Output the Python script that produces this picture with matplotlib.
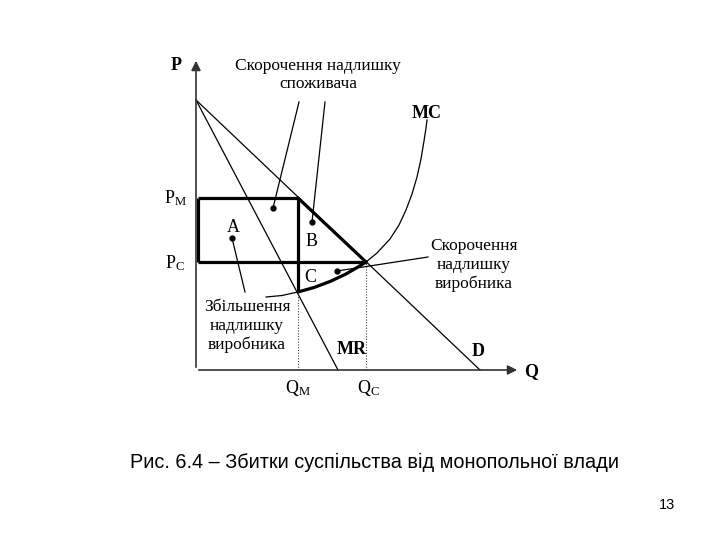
import numpy as np
import matplotlib.pyplot as plt

plt.rcParams['mathtext.fontset'] = 'custom'
plt.rcParams['mathtext.rm'] = 'Liberation Serif'

SERIF = ['Liberation Serif', 'DejaVu Serif']
SANS = ['Liberation Sans', 'DejaVu Sans']

# demand and marginal revenue: price intercept and quantity intercepts
p_max = 270
q_demand = 284
q_mr = 142

# equilibrium points
q_m, p_m = 102, 172
q_c, p_c = 170, 108

# marginal cost curve
mc_q = [70, 86, 102, 118, 134, 150, 162, 170, 181, 194, 203, 210, 216, 221, 225, 228, 230, 231]
mc_p = [73, 74.5, 78, 82.5, 88.5, 96, 103, 108, 117, 131, 145, 160, 176, 193, 211, 229, 242, 250]

# marker dots and leader ends
dots = [(77, 162), (116, 148), (36, 132), (141, 99)]
leaders = [((103, 268), (77, 162)), ((129, 268), (116, 148)),
           ((36, 132), (49, 78)), ((141, 99), (232, 113))]

fig = plt.figure(figsize=(7.2, 5.4), dpi=100)
ax = fig.add_axes([0, 0, 1, 1])
ax.set_xlim(-196, 524)
ax.set_ylim(-170, 370)
ax.axis('off')

# axes with arrows
ax.annotate('', xy=(0, 312), xytext=(0, 0),
            arrowprops=dict(arrowstyle='-|>', color='#333', lw=1.2, mutation_scale=14))
ax.annotate('', xy=(324, 0), xytext=(0, 0),
            arrowprops=dict(arrowstyle='-|>', color='#333', lw=1.2, mutation_scale=14))

# demand and MR
ax.plot([0, q_demand], [p_max, 0], color='black', lw=0.9)
ax.plot([0, q_mr], [p_max, 0], color='black', lw=0.9)

# MC
mc_q_arr = np.array(mc_q)
mc_p_arr = np.array(mc_p)
ax.plot(mc_q_arr, mc_p_arr, color='black', lw=0.9)
seg = (mc_q_arr >= q_m) & (mc_q_arr <= q_c)
ax.plot(mc_q_arr[seg], mc_p_arr[seg], color='black', lw=2.3, solid_capstyle='round')

# thick outlines
mc_at_qm = mc_p[mc_q.index(q_m)]
thick = dict(color='black', lw=2.3, solid_capstyle='butt')
ax.plot([1.5, q_m], [p_m, p_m], **thick)
ax.plot([1.5, q_c], [p_c, p_c], **thick)
ax.plot([1.5, 1.5], [p_c, p_m], **thick)
ax.plot([q_m, q_m], [mc_at_qm, p_m], **thick)
ax.plot([q_m, q_c], [p_m, p_c], color='black', lw=2.3, solid_capstyle='round')

# dotted drop lines
ax.plot([q_m, q_m], [0, mc_at_qm], color='#444', lw=0.8, ls=(0, (1, 1.5)))
ax.plot([q_c, q_c], [0, p_c], color='#444', lw=0.8, ls=(0, (1, 1.5)))

# leaders and dots
for a, b in leaders:
    ax.plot([a[0], b[0]], [a[1], b[1]], color='black', lw=0.9)
for x, y in dots:
    ax.plot(x, y, 'o', color='black', ms=3.5)

# labels
bold = dict(family=SERIF, fontweight='bold', fontsize=13, ha='center', va='center')
ax.text(-20, 305, 'P', **bold)
ax.text(335, -2, 'Q', **bold)
ax.text(231, 257, 'MC', **bold)
ax.text(156, 20, 'MR', **bold)
ax.text(282, 18, 'D', **bold)

reg = dict(family=SERIF, fontsize=13, ha='center', va='center')
ax.text(-21, 172, r'$\mathrm{P_M}$', **reg)
ax.text(-21, 107, r'$\mathrm{P_C}$', **reg)
ax.text(102, -18, r'$\mathrm{Q_M}$', **reg)
ax.text(172, -18, r'$\mathrm{Q_C}$', **reg)
ax.text(37, 143, 'A', **reg)
ax.text(116, 128, 'B', **reg)
ax.text(114, 92, 'C', **reg)

note = dict(family=SERIF, fontsize=12.5, ha='center', va='center', linespacing=1.2)
ax.text(122, 295, 'Скорочення надлишку\nспоживача', **note)
ax.text(278, 105, 'Скорочення\nнадлишку\nвиробника', **note)
ax.text(51, 44, 'Збільшення\nнадлишку\nвиробника', **note)

ax.text(179, -92, 'Рис. 6.4 – Збитки суспільства від монопольної влади',
        family=SANS, fontsize=14.3, ha='center', va='center')
ax.text(471, -135, '13', family=SANS, fontsize=10.5, ha='center', va='center')

fig.savefig('out.png', dpi=100)
